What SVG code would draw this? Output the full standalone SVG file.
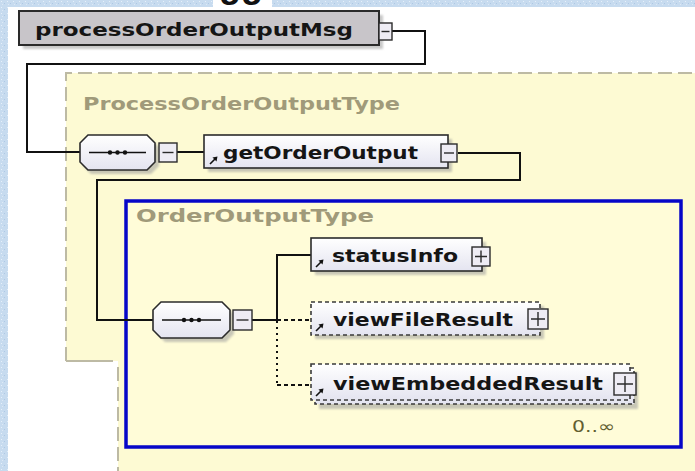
<svg xmlns="http://www.w3.org/2000/svg" width="695" height="471" viewBox="0 0 695 471">
  <defs>
    <style>
      .lbl { font-family: "DejaVu Sans", "Liberation Sans", sans-serif; font-weight: bold; font-size: 18px; fill: #151515; }
      .type { font-family: "DejaVu Sans", "Liberation Sans", sans-serif; font-weight: bold; font-size: 18px; fill: #a09a7a; }
      .occ { font-family: "DejaVu Sans", "Liberation Sans", sans-serif; font-size: 16px; fill: #625e30; }
      .box { fill: url(#boxFill); stroke: #2b2b2b; stroke-width: 1.6; }
      .opt { fill: url(#boxFill); stroke: #3a3a3a; stroke-width: 1.6; stroke-dasharray: 4 3; }
      .shadow { fill: #9c9c9c; opacity: 0.55; filter: url(#soft); }
      .btn { fill: #eeecf4; stroke: #2b2b2b; stroke-width: 1.4; }
      .sign { stroke: #2b2b2b; stroke-width: 1.4; fill: none; }
      .seq { fill: url(#boxFill); stroke: #2b2b2b; stroke-width: 1.6; }
      .wire { fill: none; stroke: #111; stroke-width: 2; }
      .wire-dash { fill: none; stroke: #111; stroke-width: 2; stroke-dasharray: 4 3; }
      .wire-dot { fill: none; stroke: #111; stroke-width: 2; stroke-dasharray: 2 4; }
      .ref { fill: none; stroke: #111; stroke-width: 1.6; }
      .area { stroke: #bdbaa4; stroke-width: 2; stroke-dasharray: 14 6; fill: none; }
    </style>
    <linearGradient id="boxFill" x1="0" y1="0" x2="0" y2="1">
      <stop offset="0" stop-color="#ffffff"/>
      <stop offset="1" stop-color="#e4e4f0"/>
    </linearGradient>
    <filter id="soft" x="-10%" y="-10%" width="120%" height="130%">
      <feGaussianBlur stdDeviation="1.2"/>
    </filter>
    <pattern id="grain" width="6" height="6" patternUnits="userSpaceOnUse">
      <rect width="6" height="6" fill="#c7dbef"/>
      <rect x="1" y="1" width="1" height="1" fill="#e6f0fa"/>
      <rect x="4" y="3" width="1" height="1" fill="#aec8e4"/>
      <rect x="2" y="4" width="1" height="1" fill="#dde9f6"/>
    </pattern>
    <!-- reference-arrow icon used inside element boxes -->
    <g id="refIcon">
      <path class="ref" d="M0,0 L6,-6"/>
      <path d="M7.5,-7.5 L2.5,-6.5 L6.5,-2.5 Z" fill="#111"/>
    </g>
  </defs>

  <!-- page background -->
  <rect width="695" height="471" fill="url(#grain)"/>
  <rect x="8" y="7" width="687" height="464" fill="#ffffff"/>
  <rect x="213" y="0" width="59" height="7" fill="#ffffff"/>
  <text x="219" y="-3" font-family="'Liberation Sans', sans-serif" font-weight="bold" font-size="36" fill="#111">gg</text>

  <!-- complex type area: ProcessOrderOutputType -->
  <g id="ProcessOrderOutputType">
    <path d="M66,73 H695 V471 H118 V361 H66 Z" fill="#fdfad3"/>
    <path class="area" d="M66,361 V73 H695"/>
    <path d="M66,361 H113" stroke="#bdbaa4" stroke-width="2"/>
    <path class="area" d="M118,367 V471"/>
    <text class="type" x="83" y="110" textLength="317" lengthAdjust="spacingAndGlyphs">ProcessOrderOutputType</text>
  </g>

  <!-- complex type area: OrderOutputType -->
  <g id="OrderOutputType">
    <rect x="126" y="201" width="555" height="246" fill="#fffcd8" stroke="#0606c8" stroke-width="3.5"/>
    <text class="type" x="136" y="222" textLength="238" lengthAdjust="spacingAndGlyphs">OrderOutputType</text>
  </g>

  <!-- connectors -->
  <g id="connectors">
    <path class="wire" d="M392,31 H425 V64 H27 V152 H80"/>
    <path class="wire" d="M177,152 H204"/>
    <path class="wire" d="M458,153 H520 V180 H97 V320 H153"/>
    <path class="wire" d="M252,320 H277 V255 H311"/>
    <path class="wire-dash" d="M277,320 H311"/>
    <path class="wire-dot" d="M277,321 V385"/>
    <path class="wire-dash" d="M277,385 H311"/>
  </g>

  <!-- root element -->
  <g id="processOrderOutputMsg">
    <rect class="shadow" x="23" y="15" width="360" height="34"/>
    <rect x="19" y="11" width="360" height="34" fill="#c8c5c9" stroke="#2a2a2a" stroke-width="2"/>
    <text class="lbl" x="35" y="36" textLength="318" lengthAdjust="spacingAndGlyphs">processOrderOutputMsg</text>
    <rect class="btn" x="379" y="23" width="13" height="17"/>
    <path class="sign" d="M381.5,31.5 H389.5"/>
  </g>

  <!-- sequence compositor (outer) -->
  <g id="sequence1">
    <path class="shadow" d="M91,139 H151 L159,147 V166 L151,174 H91 L83,166 V147 Z"/>
    <path class="seq" d="M88,135 H147 L155,143 V162 L147,170 H88 L80,162 V143 Z"/>
    <path d="M89,152.5 H146" stroke="#111" stroke-width="1.5"/>
    <circle cx="110" cy="152.5" r="2.2" fill="#111"/>
    <circle cx="117.5" cy="152.5" r="2.2" fill="#111"/>
    <circle cx="125" cy="152.5" r="2.2" fill="#111"/>
    <rect class="btn" x="159" y="143" width="18" height="19"/>
    <path class="sign" d="M162.5,152.5 H173.5"/>
  </g>

  <!-- getOrderOutput element -->
  <g id="getOrderOutput">
    <rect class="shadow" x="208" y="139" width="244" height="33"/>
    <rect class="box" x="204" y="135" width="244" height="33"/>
    <use href="#refIcon" x="210" y="164"/>
    <text class="lbl" x="223" y="159" textLength="195" lengthAdjust="spacingAndGlyphs">getOrderOutput</text>
    <rect class="btn" x="441" y="144" width="16" height="18"/>
    <path class="sign" d="M444,153 H454"/>
  </g>

  <!-- sequence compositor (inner) -->
  <g id="sequence2">
    <path class="shadow" d="M165,306 H226 L234,314 V334 L226,342 H165 L157,334 V314 Z"/>
    <path class="seq" d="M161,302 H222 L230,310 V330 L222,338 H161 L153,330 V310 Z"/>
    <path d="M162,320 H221" stroke="#111" stroke-width="1.5"/>
    <circle cx="184" cy="320" r="2.2" fill="#111"/>
    <circle cx="191.5" cy="320" r="2.2" fill="#111"/>
    <circle cx="199" cy="320" r="2.2" fill="#111"/>
    <rect class="btn" x="233" y="310" width="19" height="20"/>
    <path class="sign" d="M236.5,320 H248.5"/>
  </g>

  <!-- statusInfo element -->
  <g id="statusInfo">
    <rect class="shadow" x="315" y="242" width="171" height="33"/>
    <rect class="box" x="311" y="238" width="171" height="33"/>
    <use href="#refIcon" x="316" y="267"/>
    <text class="lbl" x="332" y="262" textLength="126" lengthAdjust="spacingAndGlyphs">statusInfo</text>
    <rect class="btn" x="472" y="247" width="18" height="19"/>
    <path class="sign" d="M475,256.5 H487 M481,250.5 V262.5"/>
  </g>

  <!-- viewFileResult element (optional) -->
  <g id="viewFileResult">
    <rect class="shadow" x="315" y="306" width="229" height="33"/>
    <rect class="opt" x="311" y="302" width="229" height="33"/>
    <use href="#refIcon" x="316" y="331"/>
    <text class="lbl" x="333" y="326" textLength="180" lengthAdjust="spacingAndGlyphs">viewFileResult</text>
    <rect class="btn" x="528" y="309" width="20" height="20"/>
    <path class="sign" d="M531,319 H545 M538,312 V326"/>
  </g>

  <!-- viewEmbeddedResult element (optional, repeating) -->
  <g id="viewEmbeddedResult">
    <rect class="shadow" x="319" y="372" width="319" height="37"/>
    <rect class="opt" x="315" y="368" width="319" height="36"/>
    <rect class="opt" x="311" y="364" width="319" height="36"/>
    <use href="#refIcon" x="316" y="396"/>
    <text class="lbl" x="333" y="390" textLength="270" lengthAdjust="spacingAndGlyphs">viewEmbeddedResult</text>
    <rect class="btn" x="614" y="373" width="22" height="22"/>
    <path class="sign" d="M617,384 H633 M625,376 V392"/>
    <text class="occ" x="572" y="432" textLength="43" lengthAdjust="spacingAndGlyphs">0..∞</text>
  </g>
</svg>
